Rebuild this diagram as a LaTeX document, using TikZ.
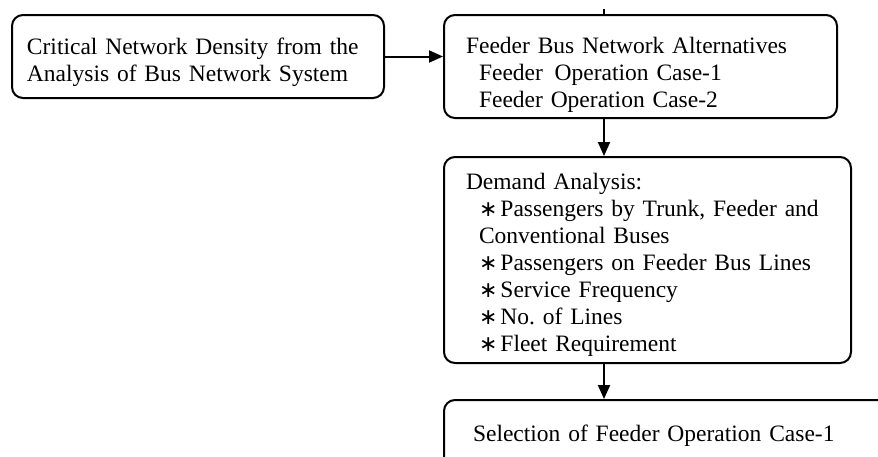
\documentclass[tikz,border=0pt]{standalone}
\usepackage{fontspec}
\setmainfont{Liberation Serif}
\newfontfamily\symfont{DejaVu Sans}
\usetikzlibrary{arrows.meta,positioning,calc}

\newcommand{\starmark}{{\symfont\fontsize{22}{27}\selectfont ∗}\hspace{3pt}}

\begin{document}
\begin{tikzpicture}[x=1pt, y=-1pt,
    flowbox/.style={draw, line width=2pt, rounded corners=11pt, align=left,
      anchor=north west, inner ysep=0pt, font=\fontsize{23.5}{27}\selectfont},
    flow/.style={line width=2pt, -{Triangle[length=14pt,width=12pt]}}]
    \useasboundingbox (0,0) rectangle (878,456);
    \clip (0,0) rectangle (878,456);

    % Boxes (top left corner, first baseline set by text height)
    \node[flowbox, inner xsep=15pt, text width=342pt, text height=39pt, text depth=44pt]
      (density) at (11,14) {Critical Network Density from the\\Analysis of Bus Network System};
    \node[flowbox, inner xsep=22pt, text width=349pt, text height=38pt, text depth=65pt]
      (alternatives) at (443,14) {Feeder Bus Network Alternatives\\
        \hspace*{13pt}Feeder\, Operation Case-1\\
        \hspace*{13pt}Feeder Operation Case-2};
    \node[flowbox, inner xsep=22pt, text width=363pt, text height=32pt, text depth=174pt]
      (demand) at (443,156) {Demand Analysis:\\
        \hspace*{13pt}\starmark Passengers by Trunk, Feeder and\\
        \hspace*{13pt}Conventional Buses\\
        \hspace*{13pt}\starmark Passengers on Feeder Bus Lines\\
        \hspace*{13pt}\starmark Service Frequency\\
        \hspace*{13pt}\starmark No.\ of Lines\\
        \hspace*{13pt}\starmark Fleet Requirement};
    \node[flowbox, inner xsep=29pt, text width=422pt, text height=41pt, text depth=39pt]
      (selection) at (443,399) {Selection of Feeder Operation Case-1};

    % Connectors
    \coordinate (spine) at (604,0);
    \coordinate (incoming) at (604,9);
    \draw[line width=2pt] (incoming) -- (alternatives.north -| incoming);
    \draw[flow] (density.east) -- (density.east -| alternatives.west);
    \draw[flow] (alternatives.south -| spine) -- (demand.north -| spine);
    \draw[flow] (demand.south -| spine) -- (selection.north -| spine);
\end{tikzpicture}
\end{document}
